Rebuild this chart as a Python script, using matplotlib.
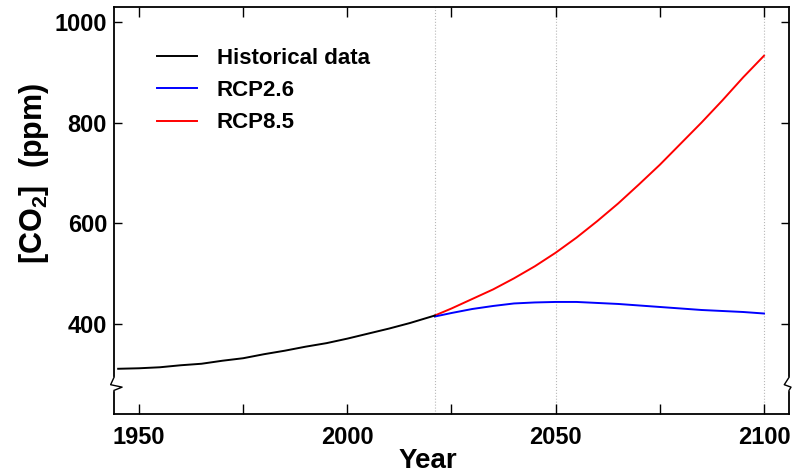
import matplotlib
matplotlib.use('Agg')
import matplotlib.pyplot as plt

# historical record (ppm)
hist_years = [1945, 1950, 1955, 1960, 1965, 1970, 1975, 1980, 1985, 1990,
              1995, 2000, 2005, 2010, 2015, 2021]
hist_co2 = [310, 311, 313, 317, 320, 326, 331, 339, 346, 354,
            361, 370, 380, 390, 401, 416]

# scenarios from 2021
rcp_years = [2021, 2025, 2030, 2035, 2040, 2045, 2050, 2055, 2060, 2065,
             2070, 2075, 2080, 2085, 2090, 2095, 2100]
rcp26_co2 = [414, 421, 429, 435, 440, 442, 443, 443, 441, 439,
             436, 433, 430, 427, 425, 423, 420]
rcp85_co2 = [416, 430, 449, 468, 490, 514, 541, 571, 604, 639,
             677, 716, 758, 800, 844, 890, 933]

vlines = [2021, 2050, 2100]
xticks = [1950, 1975, 2000, 2025, 2050, 2075, 2100]
xticklabels = ['1950', '', '2000', '', '2050', '', '2100']
yticks = [400, 600, 800, 1000]

plt.rcParams['mathtext.default'] = 'regular'
fam = ['Liberation Sans', 'DejaVu Sans']

W, H = 808, 476
fig = plt.figure(figsize=(W / 100, H / 100), dpi=100)
ax = fig.add_axes([114 / W, (H - 414) / H, (789 - 114) / W, (414 - 7) / H])

for x in vlines:
    ax.axvline(x, color='#b8b8b8', linewidth=0.8, linestyle=':', zorder=0)

ax.plot(rcp_years, rcp85_co2, color='red', linewidth=1.4, label='RCP8.5')
ax.plot(rcp_years, rcp26_co2, color='blue', linewidth=1.4, label='RCP2.6')
ax.plot(hist_years, hist_co2, color='black', linewidth=1.4, label='Historical data')

ax.set_xlim(1944, 2106)
ax.set_ylim(220, 1030)
ax.set_xticks(xticks)
ax.set_xticklabels(xticklabels)
ax.set_yticks(yticks)

ax.tick_params(axis='x', direction='in', length=7, width=1, top=True, pad=9)
ax.tick_params(axis='y', direction='in', length=5.5, width=1, right=True, pad=5)
for lab in ax.get_xticklabels() + ax.get_yticklabels():
    lab.set_family(fam)
    lab.set_fontweight('bold')
    lab.set_fontsize(17)

for sp in ax.spines.values():
    sp.set_linewidth(1.3)

# axis break marks
for xs in (0, 1):
    ax.plot([xs, xs], [0.085, 0.062], transform=ax.transAxes, color='white',
            linewidth=3, clip_on=False, zorder=5)
    zx = [xs, xs - 0.005, xs + 0.012, xs] if xs == 0 else [xs, xs - 0.007, xs + 0.003, xs]
    zy = [0.09, 0.072, 0.066, 0.058]
    ax.plot(zx, zy, transform=ax.transAxes, color='black', linewidth=1,
            clip_on=False, zorder=6)

ax.set_ylabel('[CO$_2$]  (ppm)', family=fam, fontweight='bold', fontsize=22)
ax.yaxis.set_label_coords(-0.093, 0.59)
fig.text(428 / W, 1 - 461 / H, 'Year', family=fam, fontweight='bold',
         fontsize=20, ha='center', va='center')

handles, labels = ax.get_legend_handles_labels()
order = [2, 1, 0]
leg = ax.legend([handles[i] for i in order], [labels[i] for i in order],
                loc='upper left', bbox_to_anchor=(0.034, 0.948), frameon=False,
                prop={'family': fam, 'weight': 'bold', 'size': 16},
                handlelength=1.8, handletextpad=0.9, labelspacing=0.5)

fig.savefig('out.png', dpi=100)
